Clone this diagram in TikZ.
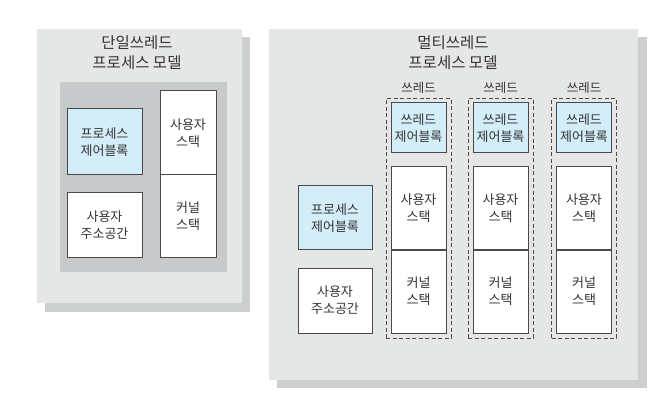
\documentclass[tikz,border=0pt]{standalone}
\usepackage{fontspec}
\setmainfont{Noto Sans CJK KR}
\definecolor{panelc}{HTML}{E5E6E6}
\definecolor{shadowc}{HTML}{CDCECE}
\definecolor{innerc}{HTML}{C8C9CA}
\definecolor{bluec}{HTML}{D4EEF9}
\definecolor{linec}{HTML}{4A4A4A}
\definecolor{textc}{HTML}{333333}
\tikzset{
  panel/.style={fill=panelc, draw=none},
  shadowbox/.style={fill=shadowc, draw=none},
  innerbox/.style={fill=innerc, draw=none},
  whitebox/.style={draw=linec, line width=1pt, fill=white, align=center, text=textc,
    font=\fontsize{13}{17}\selectfont, inner sep=0pt},
  bluebox/.style={whitebox, fill=bluec},
  threadbox/.style={draw=linec, line width=1pt, dash pattern=on 4pt off 2.5pt, fill=none, inner sep=0pt},
  titletext/.style={align=center, text=textc, font=\fontsize{15.5}{20}\selectfont, inner sep=0pt},
  threadlabel/.style={text=textc, font=\fontsize{12.5}{14}\selectfont, inner sep=0pt}
}
\begin{document}
\begin{tikzpicture}[x=1pt,y=-1pt]
\useasboundingbox (0,0) rectangle (662,401);
% left panel
\fill[shadowbox] (45,37) rectangle (250,312);
\fill[panel] (37,29) rectangle (242,303);
\fill[innerbox] (60,82) rectangle (227,272);
\node[titletext] (t1) at (137,53) {단일쓰레드\\프로세스 모델};
\node[bluebox, minimum width=75pt, minimum height=66pt] (pcb1) at (104.5,142) {프로세스\\제어블록};
\node[whitebox, minimum width=75pt, minimum height=64pt] (addr1) at (104.5,225) {사용자\\주소공간};
\node[whitebox, minimum width=56pt, minimum height=84pt] (us1) at (188,133) {사용자\\스택};
\node[whitebox, minimum width=56pt, minimum height=82pt] (ks1) at (188,216) {커널\\스택};
% right panel
\fill[shadowbox] (277,37) rectangle (647,388);
\fill[panel] (269,29) rectangle (638,380);
\node[titletext] (t2) at (453,53) {멀티쓰레드\\프로세스 모델};
\node[bluebox, minimum width=74pt, minimum height=64pt] (pcb2) at (335,218) {프로세스\\제어블록};
\node[whitebox, minimum width=74pt, minimum height=65pt] (addr2) at (335,300.5) {사용자\\주소공간};
\foreach \cx/\i in {418.5/1,500.5/2,584/3}{
  \node[threadbox, minimum width=65pt, minimum height=239pt] (th\i) at (\cx,218.5) {};
  \node[threadlabel] (tl\i) at (\cx,88) {쓰레드};
  \node[bluebox, minimum width=55pt, minimum height=50pt] (tcb\i) at (\cx,128) {쓰레드\\제어블록};
  \node[whitebox, minimum width=55pt, minimum height=83pt] (tus\i) at (\cx,208.5) {사용자\\스택};
  \node[whitebox, minimum width=55pt, minimum height=83pt] (tks\i) at (\cx,291.5) {커널\\스택};
}
\end{tikzpicture}
\end{document}
